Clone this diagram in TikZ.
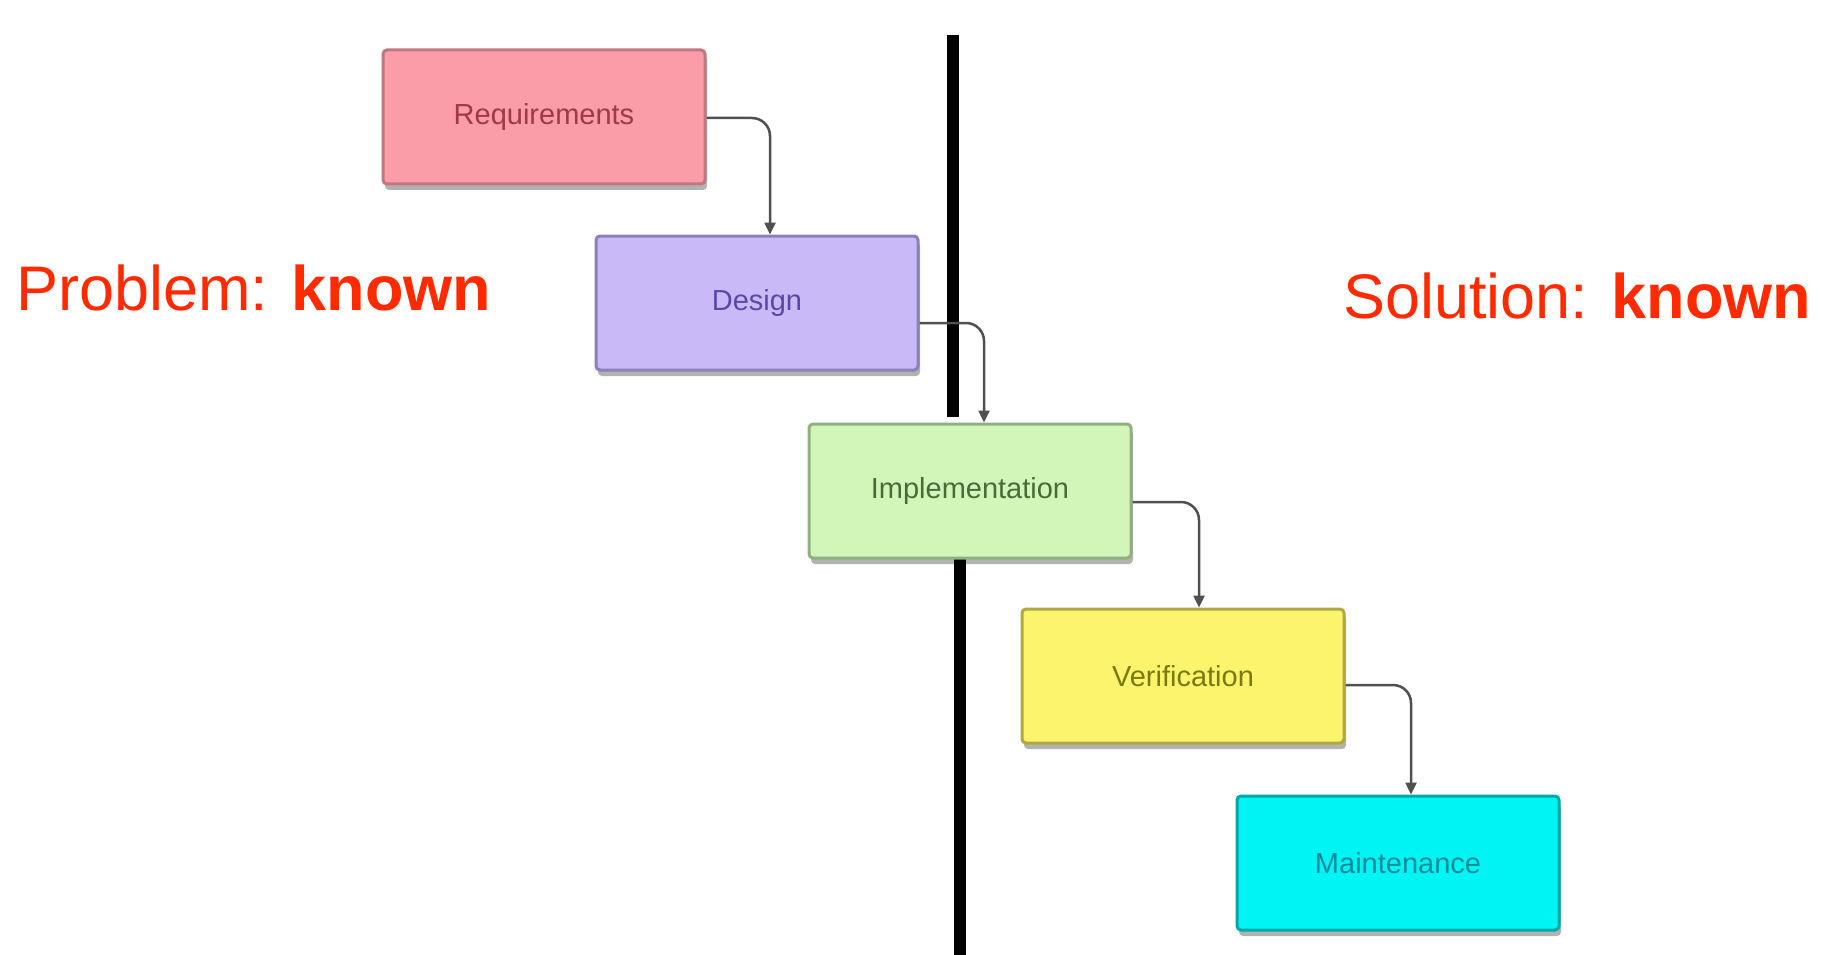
\documentclass[tikz,border=0pt]{standalone}
\usepackage{fontspec}
\setmainfont{Liberation Sans}
\usetikzlibrary{calc,shadows,arrows.meta}

% stage colours: fill, border, label
\definecolor{reqfill}{HTML}{FA9DA8}\definecolor{reqline}{HTML}{C07880}\definecolor{reqtext}{HTML}{A03848}
\definecolor{desfill}{HTML}{C9BAF7}\definecolor{desline}{HTML}{8C80B8}\definecolor{destext}{HTML}{5A48A8}
\definecolor{impfill}{HTML}{D2F6BA}\definecolor{impline}{HTML}{90B080}\definecolor{imptext}{HTML}{4A6A38}
\definecolor{verfill}{HTML}{FCF46C}\definecolor{verline}{HTML}{B0A840}\definecolor{vertext}{HTML}{7A7A10}
\definecolor{maifill}{HTML}{00F4F4}\definecolor{mailine}{HTML}{00A8A8}\definecolor{maitext}{HTML}{008C9A}
\definecolor{headline}{HTML}{FF2A00}
\definecolor{arrowgray}{HTML}{505050}

\tikzset{
  stage/.style n args={3}{
    rectangle, rounded corners=4pt, minimum width=322pt, minimum height=134pt,
    fill=#1, draw=#2, line width=3pt, text=#3,
    font=\fontsize{29}{34}\selectfont,
    drop shadow={shadow xshift=2pt, shadow yshift=-6pt, fill=black, opacity=0.3}
  },
  flow/.style={draw=arrowgray, line width=2.5pt, rounded corners=18pt,
    -{Triangle[length=12pt,width=11pt]}},
  divider/.style={line width=12pt, draw=black},
  heading/.style={anchor=base west, inner sep=0pt, text=headline,
    font=\fontsize{63}{75}\selectfont}
}

\begin{document}
\begin{tikzpicture}[x=1pt,y=-1pt]
  \useasboundingbox (0,0) rectangle (1824,955);
  \fill[white] (0,0) rectangle (1824,955);

  % boundary between the known problem and the known solution
  \draw[divider] (953,35) -- (953,417);
  \draw[divider] (960,557) -- (960,955);

  % waterfall stages
  \node[stage={reqfill}{reqline}{reqtext}] (req) at (544,117) {Requirements};
  \node[stage={desfill}{desline}{destext}] (des) at (757,303) {Design};
  \node[stage={impfill}{impline}{imptext}] (imp) at (970,491) {Implementation};
  \node[stage={verfill}{verline}{vertext}] (ver) at (1183,676) {Verification};
  \node[stage={maifill}{mailine}{maitext}] (mai) at (1398,863) {Maintenance};

  % hand-offs between stages
  \draw[flow] ($(req.east)+(0,1)$)  -| ($(des.north)+(13,0)$);
  \draw[flow] ($(des.east)+(0,20)$) -| ($(imp.north)+(14,0)$);
  \draw[flow] ($(imp.east)+(0,11)$) -| ($(ver.north)+(16,0)$);
  \draw[flow] ($(ver.east)+(0,9)$)  -| ($(mai.north)+(13,0)$);

  % side headings
  \node[heading] (prob) at (16,310) {Problem: \textbf{known}};
  \node[heading] (sol) at (1343,318) {Solution: \textbf{known}};
\end{tikzpicture}
\end{document}
